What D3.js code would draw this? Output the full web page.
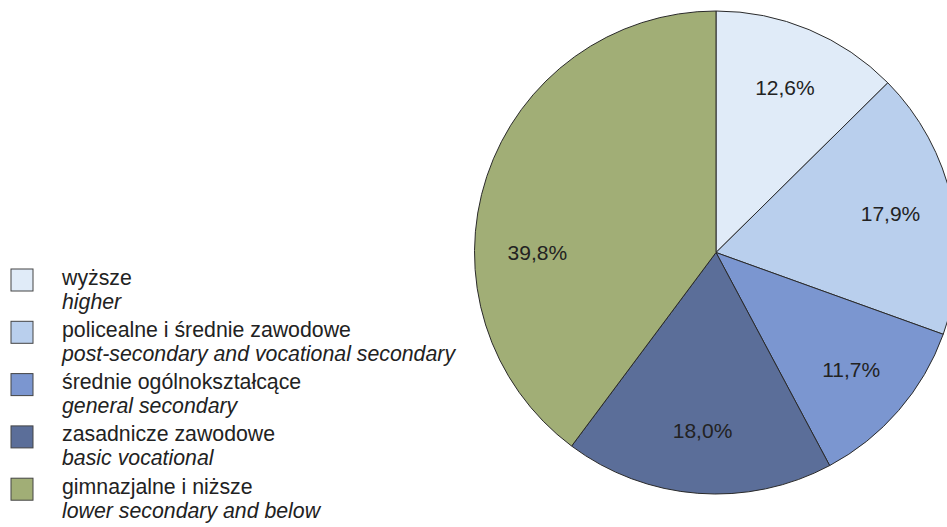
<!DOCTYPE html>
<html>
<head>
<meta charset="utf-8">
<script src="https://cdn.jsdelivr.net/npm/d3@7"></script>
<style>
  html, body { margin: 0; padding: 0; background: #fff; overflow: hidden; }
  svg { display: block; font-family: 'Liberation Sans', Arial, sans-serif; }
</style>
</head>
<body>
<svg id="chart" width="947" height="527"></svg>
<script>
'use strict';
const CATEGORIES_PL = ['wyższe', 'policealne i średnie zawodowe', 'średnie ogólnokształcące', 'zasadnicze zawodowe', 'gimnazjalne i niższe'];
const CATEGORIES_EN = ['higher', 'post-secondary and vocational secondary', 'general secondary', 'basic vocational', 'lower secondary and below'];
const SHARES = [12.6, 17.9, 11.7, 18.0, 39.8];
const COLORS = ['#e0ebf8', '#b9cfed', '#7b96d0', '#5b6e99', '#a1ae76'];

const svg = d3.select('#chart');
const cx = 716, cy = 252.5, radius = 241.5;

// pie, starting at 12 o'clock and going clockwise
const pie = d3.pie().sort(null).value((d) => d.value);
const arcs = pie(SHARES.map((v, i) => ({ value: v, i })));
const arc = d3.arc().innerRadius(0).outerRadius(radius);

const g = svg.append('g').attr('transform', `translate(${cx},${cy})`);
g.selectAll('path')
  .data(arcs)
  .enter()
  .append('path')
  .attr('d', arc)
  .attr('fill', (d) => COLORS[d.data.i])
  .attr('stroke', '#2a2a2a')
  .attr('stroke-width', 1);

// labels: along the mid angle, except a slice that covers 9 o'clock
// gets its label put on the horizontal axis (as the original does)
const labelR = radius * 0.74;
const west = Math.PI * 1.5;
function labelAngle(d) {
  let a = (d.startAngle + d.endAngle) / 2;
  if (d.endAngle - d.startAngle > Math.PI / 2 && d.startAngle < west && d.endAngle > west) a = west;
  return a;
}
g.selectAll('text')
  .data(arcs)
  .enter()
  .append('text')
  .attr('x', (d) => labelR * Math.sin(labelAngle(d)))
  .attr('y', (d) => -labelR * Math.cos(labelAngle(d)))
  .attr('text-anchor', 'middle')
  .attr('dy', '0.35em')
  .attr('font-size', 21)
  .attr('fill', '#222')
  .text((d) => d.data.value.toFixed(1).replace('.', ',') + '%');

// legend
const legend = svg.append('g').attr('transform', 'translate(11,269)');
const item = legend.selectAll('g')
  .data(CATEGORIES_PL)
  .enter()
  .append('g')
  .attr('transform', (d, i) => `translate(0,${i * 52.3})`);

item.append('rect')
  .attr('width', 22)
  .attr('height', 22)
  .attr('fill', (d, i) => COLORS[i])
  .attr('stroke', '#444')
  .attr('stroke-width', 1);

item.append('text')
  .attr('x', 51)
  .attr('y', 15.5)
  .attr('font-size', 21.3)
  .attr('fill', '#222')
  .text((d) => d);

item.append('text')
  .attr('x', 51)
  .attr('y', 39.5)
  .attr('font-size', 21.3)
  .attr('font-style', 'italic')
  .attr('fill', '#222')
  .text((d, i) => CATEGORIES_EN[i]);
</script>
</body>
</html>
